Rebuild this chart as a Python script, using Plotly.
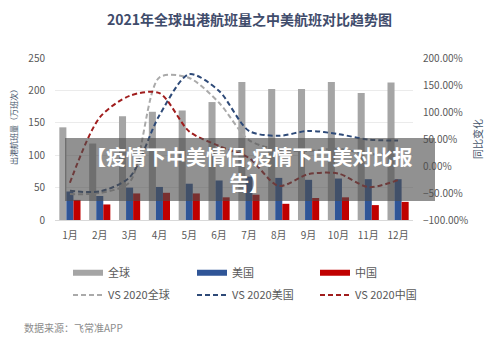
import plotly.graph_objects as go

# Monthly departures (10k flights) and year-on-year change (%)
months = ["1月", "2月", "3月", "4月", "5月", "6月", "7月", "8月", "9月", "10月", "11月", "12月"]
global_flights = [143, 118, 160, 167, 169, 182, 213, 202, 202, 213, 196, 212]
us_flights = [44, 37, 50, 51, 56, 61, 67, 65, 62, 64, 63, 63]
cn_flights = [31, 24, 41, 42, 41, 35, 39, 25, 34, 35, 23, 28]
global_yoy = [-52, -50, -30, 164, 163, 117, 48, 30, 28, 32, 22, 25]
us_yoy = [-46, -47, -21, 94, 170, 139, 65, 56, 65, 59, 49, 47]
cn_yoy = [-31, 90, 130, 135, 64, 37, 15, -37, -15, -14, -39, -26]

W, H = 500, 340
L, R, T, B = 55, 413, 58, 220  # plot area in pixels


def px(x):
    return (x - L) / (R - L)


def py(y):
    return (B - y) / (B - T)


FONT = "Noto Sans CJK SC"
GRAY, BLUE, RED = "#a5a5a5", "#2f5597", "#c00000"
LEGEND_COLS = [73, 197, 320]      # swatch left edges
LEGEND_ROWS = [272.7, 295.0]      # row centres

fig = go.Figure()

for name, vals, color in [("全球", global_flights, GRAY),
                          ("美国", us_flights, BLUE),
                          ("中国", cn_flights, RED)]:
    fig.add_trace(go.Bar(x=months, y=vals, name=name, marker_color=color,
                         marker_line_width=0, showlegend=False))

for i, (name, vals, color) in enumerate([("VS 2020全球", global_yoy, "#aaaaaa"),
                                         ("VS 2020美国", us_yoy, "#2e4a78"),
                                         ("VS 2020中国", cn_yoy, "#a01d1d")]):
    fig.add_trace(go.Scatter(x=months, y=vals, name=name, yaxis="y2",
                             mode="lines", line=dict(color=color, width=2,
                                                      dash="5px,3px", shape="spline",
                                                      smoothing=0.8),
                             legend=f"legend{4 + i}"))

# legend swatches for the bar series
for i, (name, color) in enumerate([("全球", GRAY), ("美国", BLUE), ("中国", RED)]):
    fig.add_trace(go.Scatter(x=[None], y=[None], name=name, mode="lines",
                             line=dict(color=color, width=6),
                             legend="legend" if i == 0 else f"legend{1 + i}"))

legends = {}
for r, row_y in enumerate(LEGEND_ROWS):
    for c, col_x in enumerate(LEGEND_COLS):
        k = r * 3 + c + 1
        key = "legend" if k == 1 else f"legend{k}"
        legends[key] = dict(orientation="h", xanchor="left", yanchor="middle",
                            x=px(col_x - 5), y=py(row_y), itemwidth=30,
                            font=dict(family=FONT, size=11, color="#595959"),
                            bgcolor="rgba(0,0,0,0)", borderwidth=0)

fig.update_layout(
    width=W, height=H,
    margin=dict(l=L, r=W - R, t=T, b=H - B, pad=0),
    paper_bgcolor="white", plot_bgcolor="white",
    barmode="group", bargap=0.29, bargroupgap=0,
    font=dict(family=FONT, size=10, color="#595959"),
    xaxis=dict(showgrid=False, showline=True, linecolor="#d9d9d9", linewidth=1,
               ticks="", tickfont=dict(size=10, color="#595959"),
               ticklabelstandoff=6, range=[-0.5, 11.5]),
    yaxis=dict(range=[0, 250], dtick=50, showgrid=True, gridcolor="#ebebeb",
               zeroline=False, ticks="", ticklabelstandoff=9,
               tickfont=dict(size=10, color="#595959")),
    yaxis2=dict(range=[-100, 200], dtick=50, overlaying="y", side="right",
                showgrid=False, zeroline=False, ticks="", ticklabelstandoff=9,
                ticksuffix=".00%", tickfont=dict(size=10, color="#595959")),
    shapes=[dict(type="rect", xref="paper", yref="paper", layer="above",
                 x0=px(65), x1=px(435), y0=py(201), y1=py(138),
                 fillcolor="rgba(78,78,78,0.62)", line_width=0)],
    annotations=[
        dict(text="<b>2021年全球出港航班量之中美航班对比趋势图</b>", xref="paper", yref="paper",
             x=px(250), y=py(19), showarrow=False, xanchor="center", yanchor="middle",
             font=dict(family=FONT, size=14, color="#3f4c6b")),
        dict(text="出港航班量（万班次）", xref="paper", yref="paper", textangle=-90,
             x=px(14), y=py(125), showarrow=False, xanchor="center", yanchor="middle",
             font=dict(family=FONT, size=8, color="#44546a")),
        dict(text="同比变化", xref="paper", yref="paper", textangle=-90,
             x=px(477), y=py(139), showarrow=False, xanchor="center", yanchor="middle",
             font=dict(family=FONT, size=10, color="#44546a")),
        dict(text="<b>【疫情下中美情侣,疫情下中美对比报<br>告】</b>", xref="paper", yref="paper",
             x=px(250), y=py(169), showarrow=False, xanchor="center", yanchor="middle",
             align="center", font=dict(family=FONT, size=20, color="white")),
        dict(text="数据来源：飞常准APP", xref="paper", yref="paper",
             x=px(22), y=py(327.7), showarrow=False, xanchor="left", yanchor="middle",
             font=dict(family=FONT, size=10, color="#8c8c8c")),
    ],
    **legends,
)

fig.write_html("out.html")
